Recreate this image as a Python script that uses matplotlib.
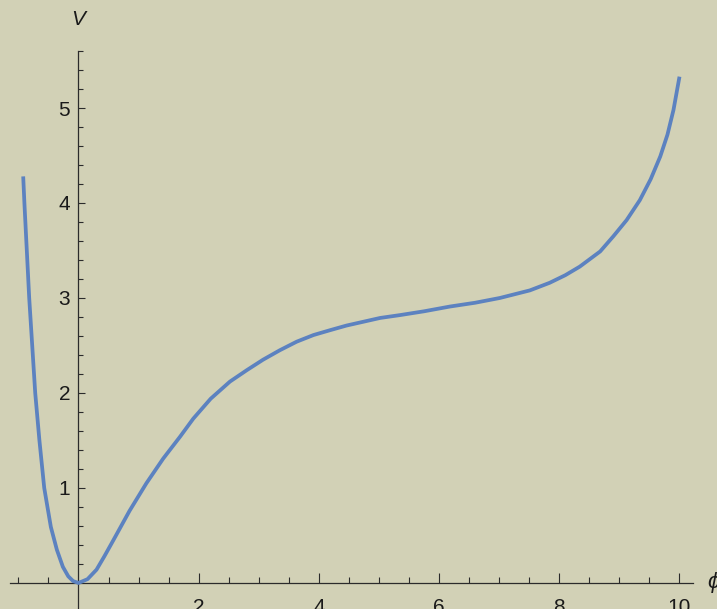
import matplotlib
matplotlib.use("Agg")
import matplotlib.pyplot as plt
from matplotlib.ticker import FixedLocator

# values
phi = [-0.92, -0.90, -0.86, -0.82, -0.77, -0.72, -0.65, -0.57, -0.46, -0.36,
       -0.26, -0.17, -0.09, 0.0, 0.15, 0.3, 0.43, 0.58, 0.85, 1.13,
       1.41, 1.69, 1.91, 2.2, 2.52, 2.80, 3.07, 3.35, 3.63, 3.91,
       4.18, 4.46, 4.74, 5.02, 5.35, 5.75, 6.18, 6.6, 7.01, 7.51,
       7.84, 8.1, 8.34, 8.68, 8.9, 9.12, 9.34, 9.52, 9.68, 9.8,
       9.9, 10.0]
V = [4.28, 4.0, 3.5, 3.0, 2.5, 2.0, 1.5, 1.0, 0.59, 0.35,
     0.17, 0.07, 0.02, 0.0, 0.04, 0.14, 0.28, 0.45, 0.76, 1.05,
     1.31, 1.54, 1.73, 1.94, 2.12, 2.24, 2.35, 2.45, 2.54, 2.61,
     2.66, 2.71, 2.75, 2.79, 2.82, 2.86, 2.91, 2.95, 3.00, 3.08,
     3.16, 3.24, 3.33, 3.49, 3.65, 3.82, 4.03, 4.25, 4.49, 4.72,
     4.98, 5.33]

x_major = [2, 4, 6, 8, 10]
x_minor = [-1, -0.5, 0.5, 1, 1.5, 2.5, 3, 3.5, 4.5, 5, 5.5, 6.5, 7, 7.5, 8.5, 9, 9.5]
y_major = [1, 2, 3, 4, 5]
y_minor = [0.2, 0.4, 0.6, 0.8, 1.2, 1.4, 1.6, 1.8, 2.2, 2.4, 2.6, 2.8,
           3.2, 3.4, 3.6, 3.8, 4.2, 4.4, 4.6, 4.8, 5.2, 5.4, 5.6]

BG = "#d2d1b6"
LINE = "#5c82c0"
AX = "#2b2b2b"

plt.rcParams["font.family"] = ["Liberation Sans", "DejaVu Sans"]

fig = plt.figure(figsize=(7.17, 6.09), dpi=100)
fig.patch.set_facecolor(BG)
ax = fig.add_axes([0, 0, 1, 1])
ax.set_facecolor(BG)

ax.plot(phi, V, color=LINE, linewidth=2.7, solid_capstyle="butt",
        solid_joinstyle="round", zorder=3)

ax.set_xlim(-1.306, 10.624)
ax.set_ylim(-0.274, 6.137)

for s in ["top", "right"]:
    ax.spines[s].set_visible(False)
ax.spines["left"].set_position(("data", 0))
ax.spines["bottom"].set_position(("data", 0))
ax.spines["left"].set_bounds(-0.274, 5.6)
ax.spines["bottom"].set_bounds(-1.14, 10.22)
for s in ["left", "bottom"]:
    ax.spines[s].set_color(AX)
    ax.spines[s].set_linewidth(0.9)

ax.xaxis.set_major_locator(FixedLocator(x_major))
ax.xaxis.set_minor_locator(FixedLocator(x_minor))
ax.yaxis.set_major_locator(FixedLocator(y_major))
ax.yaxis.set_minor_locator(FixedLocator(y_minor))
ax.set_xticklabels([str(v) for v in x_major])
ax.set_yticklabels([str(v) for v in y_major])

ax.tick_params(axis="x", which="major", direction="in", length=7.2, width=0.8,
               color=AX, pad=11, labelsize=15, labelcolor="#1a1a1a")
ax.tick_params(axis="x", which="minor", direction="in", length=4.2, width=0.8, color=AX)
ax.tick_params(axis="y", which="major", direction="in", length=5.0, width=0.8,
               color=AX, pad=6, labelsize=15, labelcolor="#1a1a1a")
ax.tick_params(axis="y", which="minor", direction="in", length=3.4, width=0.8, color=AX)

# axis names sit at the ends of the axes, as in the reference
ax.text(0, 5.93, "V", style="italic", fontsize=15, ha="center", va="center", color="#1a1a1a")
ax.text(10.46, 0.0, "ϕ", style="italic", fontsize=16, ha="left", va="center", color="#1a1a1a")

fig.savefig("out.png", dpi=100, facecolor=BG)
plt.close(fig)
